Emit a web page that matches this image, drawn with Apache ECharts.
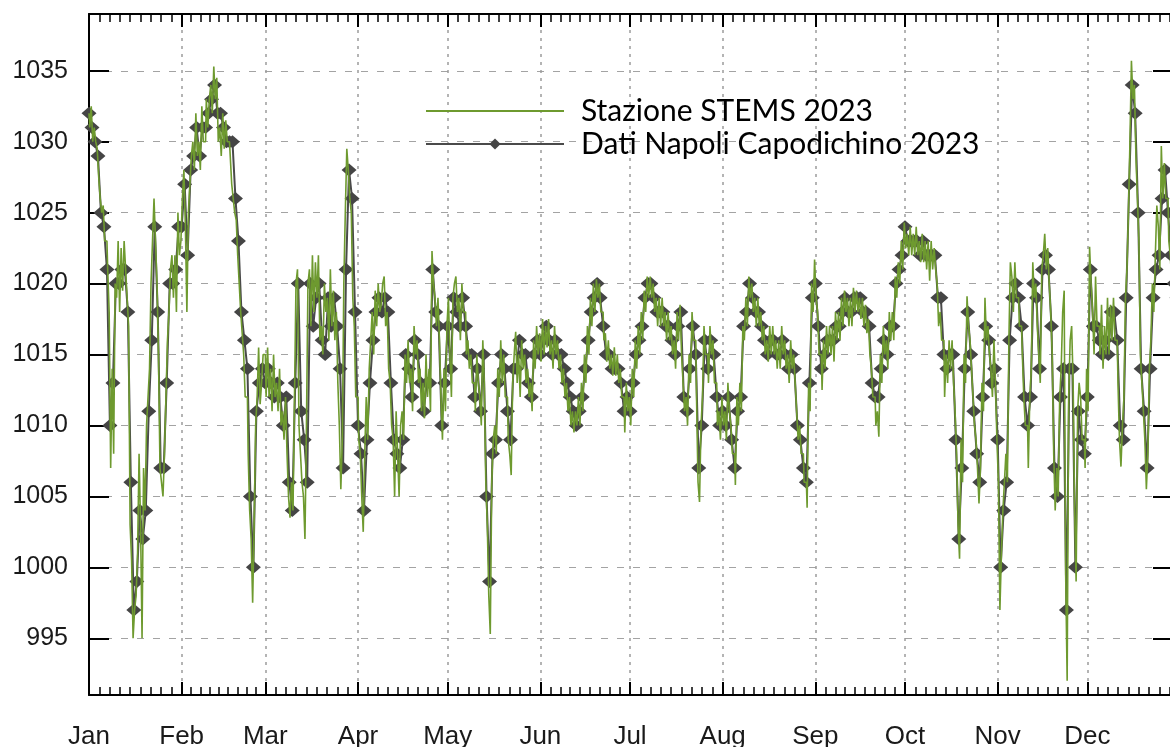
<!DOCTYPE html>
<html>
<head>
<meta charset="utf-8">
<script src="https://cdn.jsdelivr.net/npm/echarts@6/dist/echarts.min.js"></script>
<style>
  html, body { margin: 0; padding: 0; background: #ffffff; }
  #chart { width: 1170px; height: 747px; }
</style>
</head>
<body>
<div id="chart"></div>
<script>
// Axis labels and calendar
const monthNames = ['Jan', 'Feb', 'Mar', 'Apr', 'May', 'Jun', 'Jul', 'Aug', 'Sep', 'Oct', 'Nov', 'Dec'];
const monthStarts = [0, 31, 59, 90, 120, 151, 181, 212, 243, 273, 304, 334];
const monthLengths = [31, 28, 31, 30, 31, 30, 31, 31, 30, 31, 30, 31];
const pressureTicks = [995, 1000, 1005, 1010, 1015, 1020, 1025, 1030, 1035];

// Dati Napoli Capodichino 2023: one reading per day (hPa)
const napoliJan = [1032,1031,1030,1029,1025,1024,1021,1010,1013,1020,1020,1021,1021,1018,1006,997,999,1004,1002,1004,1011,1016,1024,1018,1007,1007,1013,1020,1020,1021,1024];
const napoliFeb = [1024,1027,1022,1028,1029,1031,1029,1031,1031,1032,1033,1034,1032,1032,1031,1030,1030,1030,1026,1023,1018,1016,1014,1005,1000,1011,1013,1014];
const napoliMar = [1013,1014,1013,1012,1013,1012,1010,1012,1006,1004,1013,1020,1011,1009,1006,1020,1017,1019,1020,1016,1015,1019,1017,1019,1017,1014,1007,1021,1028,1026,1018];
const napoliApr = [1010,1008,1004,1009,1013,1016,1018,1019,1018,1019,1018,1013,1009,1008,1007,1009,1015,1014,1012,1016,1015,1013,1011,1013,1013,1021,1018,1017,1010,1013];
const napoliMay = [1017,1014,1019,1018,1017,1019,1017,1015,1015,1012,1014,1011,1015,1005,999,1008,1009,1013,1015,1014,1011,1009,1014,1014,1016,1015,1015,1013,1012,1015,1016];
const napoliJun = [1015,1016,1017,1016,1015,1016,1015,1015,1014,1013,1012,1011,1010,1011,1012,1014,1016,1018,1019,1020,1019,1017,1015,1015,1014,1014,1014,1013,1011,1012];
const napoliJul = [1011,1013,1015,1016,1017,1019,1020,1020,1019,1018,1018,1018,1017,1017,1016,1015,1017,1018,1012,1011,1014,1017,1015,1007,1010,1016,1014,1016,1015,1012,1010];
const napoliAug = [1011,1010,1012,1009,1007,1011,1012,1017,1018,1020,1019,1018,1018,1017,1016,1015,1016,1016,1015,1015,1016,1015,1014,1015,1014,1010,1009,1007,1006,1013,1019];
const napoliSep = [1020,1017,1014,1015,1016,1016,1016,1017,1017,1018,1019,1018,1018,1019,1019,1019,1018,1018,1017,1013,1012,1012,1014,1016,1015,1017,1017,1020,1021,1022];
const napoliOct = [1024,1023,1023,1023,1023,1022,1023,1022,1022,1022,1022,1019,1019,1015,1014,1015,1015,1009,1002,1007,1014,1018,1015,1011,1008,1006,1012,1017,1016,1013,1014];
const napoliNov = [1009,1000,1004,1006,1016,1019,1020,1019,1017,1012,1010,1012,1020,1019,1014,1021,1022,1021,1017,1007,1005,1012,1014,997,1014,1014,1000,1011,1009,1008];
const napoliDec = [1012,1021,1017,1017,1016,1015,1016,1015,1018,1018,1016,1010,1009,1019,1027,1034,1032,1025,1014,1011,1007,1014,1019,1021,1022,1026,1028,1025,1022,1020,1019];

// Stazione STEMS 2023: two readings per day (hPa)
const stemsJan = [1032,1031, 1032.5,1030, 1031,1030, 1029.5,1027.5, 1026,1025, 1025.5,1023, 1023,1021, 1018,1007, 1014,1008, 1020,1019, 1023,1018, 1022.5,1019.5, 1023,1021, 1019,1017, 1003,1000.5, 995,997, 998,1001, 1008,1003, 995,1007, 1004,1010, 1012,1014, 1020,1023, 1026,1023, 1020,1015, 1007,1006, 1005,1008, 1012,1016, 1018,1021, 1022,1019, 1022,1018, 1025,1022];
const stemsFeb = [1023,1026, 1028,1024, 1018,1025, 1027,1029, 1030,1028, 1032,1029, 1030,1028, 1032.5,1030, 1030,1033, 1031,1033, 1034,1032, 1035.3,1033, 1034.5,1030, 1031,1029, 1032,1029.5, 1031.5,1030, 1030,1029, 1027,1026, 1025,1024.5, 1022,1020, 1018,1016.5, 1015,1012, 1012,1008, 1004,1002, 997.5,1003, 1010,1012, 1015.5,1011.5, 1013,1015];
const stemsMar = [1015,1012, 1015.5,1012, 1014,1011, 1015,1012, 1013,1011, 1014,1010, 1011,1009, 1012,1008, 1005,1003.5, 1006,1004, 1012,1020, 1021,1010, 1008,1006, 1005,1002, 1010,1020, 1021,1017, 1022,1018, 1021.5,1019, 1022,1016, 1017,1015, 1020,1018, 1019,1016, 1021,1017, 1019.5,1016, 1018,1013, 1010,1005.5, 1009,1020, 1025,1029.5, 1028,1026, 1025,1019, 1017,1012];
const stemsApr = [1012,1009, 1008,1005, 1002.5,1008, 1012,1009, 1014,1016, 1018,1015, 1019.5,1017, 1020,1018, 1018.5,1020, 1020.5,1017, 1018,1014, 1013,1010, 1009,1005, 1011,1008, 1005,1010, 1011,1009, 1015,1013, 1016,1013, 1014,1011, 1017,1015, 1016,1013, 1014,1011, 1013,1010.5, 1015,1012, 1014,1011, 1022.3,1020, 1019,1017, 1019,1016, 1012,1009, 1014,1011];
const stemsMay = [1017,1019, 1015,1012, 1019,1020, 1020.5,1018, 1019,1016, 1020,1018, 1018,1015, 1016,1014, 1015,1013, 1013,1011, 1015,1013, 1012,1010, 1016,1013, 1006,1003, 998,995.3, 1006,1009, 1010,1008, 1014,1012, 1016,1013, 1015,1012, 1012,1009, 1008,1006.5, 1013,1015, 1016.6,1013, 1015,1012, 1016,1014, 1015,1013, 1014,1012, 1013,1011, 1016,1014, 1017,1015];
const stemsJun = [1016.5,1014.5, 1017.5,1015, 1017,1015.5, 1017.5,1015, 1016,1014, 1017,1015, 1016,1014, 1015,1013, 1014,1012, 1013,1011, 1012,1010, 1011,1009.5, 1011,1010, 1012,1010, 1013,1011, 1015,1013, 1017,1015, 1019,1017, 1020,1018, 1020.3,1019, 1020,1018, 1018,1016, 1016.5,1014.5, 1016,1014, 1015,1013.5, 1015.5,1013.5, 1015,1013, 1014,1012, 1012,1009.5, 1013,1011];
const stemsJul = [1012,1010, 1014,1012, 1016,1014, 1017,1015, 1018,1016, 1019.5,1018, 1020.5,1019, 1020.5,1019, 1020,1018, 1019,1017, 1019,1017, 1019,1017, 1018,1016, 1018,1016, 1017,1015, 1016,1014, 1018,1016, 1018.5,1015, 1013,1011, 1012,1010, 1015,1013, 1018,1016, 1016,1012, 1006,1004.6, 1010,1012, 1017,1015, 1015,1013, 1017,1015, 1016,1013, 1013,1010, 1011,1009];
const stemsAug = [1012,1010, 1011,1009, 1013,1011, 1010,1008, 1008,1005.8, 1012,1010, 1013,1011, 1017,1016, 1019,1017, 1020.5,1019, 1020,1018, 1019,1017, 1019,1017, 1018,1016, 1017,1015, 1016,1014.5, 1017,1015, 1017,1015, 1016,1014, 1016,1014, 1017,1015, 1016,1014, 1015,1013, 1016,1014, 1015,1013, 1011,1009, 1010,1008, 1008,1006, 1006,1004.2, 1013,1011, 1020,1018];
const stemsSep = [1021.7,1019, 1018,1015, 1015,1012.5, 1016,1014, 1017,1015, 1017,1015, 1017,1014.5, 1018,1016, 1018,1016, 1019,1017, 1019.5,1018, 1019,1017, 1019,1017, 1019.7,1018, 1019.5,1018, 1019,1017.5, 1019,1017, 1018.5,1016.5, 1017.5,1015, 1014,1012, 1012,1010, 1011,1009.2, 1015,1013, 1017,1015, 1016,1014, 1018,1016, 1018,1016, 1020.5,1019, 1021.5,1020, 1023,1021];
const stemsOct = [1024.3,1022.5, 1023.5,1022, 1024,1022, 1023.5,1022, 1024,1022, 1023,1021.5, 1023.5,1021.5, 1023,1021, 1023,1020.2, 1023,1021, 1022.5,1021, 1020,1017, 1018,1016, 1016,1012, 1015,1013, 1016,1014, 1016,1013, 1011,1008, 1003,1000.6, 1009,1006, 1015,1013, 1019.1,1017, 1016,1014, 1012,1010, 1009,1007, 1004.5,1007, 1013,1011, 1019,1016, 1017,1015, 1014,1012, 1016,1013];
const stemsNov = [1009,1006, 997,1001, 1004,1006, 1008,1006, 1016,1021.5, 1020.5,1018, 1021.5,1019, 1019,1017, 1017,1015, 1012,1010, 1010,1007, 1012,1014, 1021.5,1019, 1020,1017, 1015,1013, 1021,1022, 1023.5,1021, 1022.5,1020, 1018,1015, 1008,1004, 1007,1005, 1012,1014, 1018,1019.5, 999.5,992, 1012,1016, 1017,1013, 1004,999, 1011,1013, 1012,1009, 1009,1007];
const stemsDec = [1014,1011, 1022.6,1020, 1018,1015, 1020.5,1017, 1017,1015, 1018.5,1014, 1017,1015, 1019,1015, 1018.5,1016, 1019,1016, 1016,1013, 1009,1007.1, 1010,1012, 1019,1021, 1025,1030, 1035.7,1033, 1034,1029, 1026,1023, 1015,1013, 1011,1009, 1005.5,1008, 1014,1016, 1020,1018, 1022,1025.5, 1024,1021, 1029.7,1026, 1028.5,1026, 1026,1023, 1022,1020, 1021,1019, 1020,1019];

const napoli = [].concat(napoliJan, napoliFeb, napoliMar, napoliApr, napoliMay, napoliJun,
                         napoliJul, napoliAug, napoliSep, napoliOct, napoliNov, napoliDec);
const stems = [].concat(stemsJan, stemsFeb, stemsMar, stemsApr, stemsMay, stemsJun,
                        stemsJul, stemsAug, stemsSep, stemsOct, stemsNov, stemsDec);

// x is the day of the year (0 = 1 January)
const napoliData = napoli.map((v, i) => [i, v]);
const stemsData = stems.map((v, i) => [i / 2, v]);

// small ticks inside each month
const minorPerMonth = 8;
const minorDays = [];
monthStarts.forEach((s, i) => {
  for (let k = 1; k <= minorPerMonth; k++) minorDays.push(s + k * monthLengths[i] / (minorPerMonth + 1));
});

const black = '#000000';
const axisFont = '"Liberation Sans", Arial, sans-serif';

const chart = echarts.init(document.getElementById('chart'), null, { renderer: 'canvas' });

const baseX = {
  type: 'value', min: 0, max: 365,
  axisLine: { show: true, onZero: false, lineStyle: { color: black, width: 2 } },
  splitLine: { show: false },
  axisLabel: { show: false }
};

chart.setOption({
  animation: false,
  backgroundColor: '#ffffff',
  grid: { left: 89, right: -10, top: 14, bottom: 52, containLabel: false, outerBoundsMode: 'none' },
  legend: {
    data: [
      { name: 'Stazione STEMS 2023', itemStyle: { opacity: 0 } },
      { name: 'Dati Napoli Capodichino 2023' }
    ],
    orient: 'vertical',
    left: 425, top: 96, padding: 0,
    itemWidth: 138, itemHeight: 14, itemGap: 3,
    textStyle: { fontFamily: 'Lato', fontSize: 30, color: '#000000', padding: [0, 0, 0, 12], lineHeight: 30 }
  },
  xAxis: [
    Object.assign({}, baseX, {
      position: 'bottom',
      axisTick: { show: true, inside: true, length: 13, customValues: monthStarts, lineStyle: { color: black, width: 2 } },
      axisLabel: {
        show: true, customValues: monthStarts, margin: 29,
        formatter: v => monthNames[monthStarts.indexOf(v)],
        fontFamily: axisFont, fontSize: 26, color: '#1a1a1a'
      },
      splitLine: { show: true, lineStyle: { color: '#9c9c9c', width: 1.5, type: [3, 5] } }
    }),
    Object.assign({}, baseX, {
      position: 'top',
      axisTick: { show: true, inside: true, length: 13, customValues: monthStarts, lineStyle: { color: black, width: 2 } }
    }),
    Object.assign({}, baseX, {
      position: 'bottom', axisLine: { show: false },
      axisTick: { show: true, inside: true, length: 8, customValues: minorDays, lineStyle: { color: black, width: 1.5 } }
    }),
    Object.assign({}, baseX, {
      position: 'top', axisLine: { show: false },
      axisTick: { show: true, inside: true, length: 8, customValues: minorDays, lineStyle: { color: black, width: 1.5 } }
    })
  ],
  yAxis: [
    {
      type: 'value', min: 991, max: 1039, position: 'left',
      axisLine: { show: true, onZero: false, lineStyle: { color: black, width: 2 } },
      axisTick: { show: true, inside: true, length: 20, customValues: pressureTicks, lineStyle: { color: black, width: 2 } },
      axisLabel: {
        customValues: pressureTicks, margin: 21, formatter: v => String(v),
        fontFamily: axisFont, fontSize: 25, color: '#1a1a1a'
      },
      splitLine: { show: true, lineStyle: { color: '#a3a3a3', width: 1.2, type: [7, 9] } }
    },
    {
      type: 'value', min: 991, max: 1039, position: 'right',
      axisLine: { show: true, onZero: false, lineStyle: { color: black, width: 2 } },
      axisTick: { show: true, inside: true, length: 27, customValues: pressureTicks, lineStyle: { color: black, width: 2 } },
      axisLabel: { show: false },
      splitLine: { show: false }
    }
  ],
  series: [
    {
      name: 'Dati Napoli Capodichino 2023',
      type: 'line',
      xAxisIndex: 0, yAxisIndex: 0,
      data: napoliData,
      symbol: 'diamond', symbolSize: [15, 13],
      showAllSymbol: true,
      lineStyle: { color: '#4a4a4a', width: 2 },
      itemStyle: { color: '#454545', borderWidth: 0 },
      z: 2
    },
    {
      name: 'Stazione STEMS 2023',
      type: 'line',
      xAxisIndex: 0, yAxisIndex: 0,
      data: stemsData,
      step: 'middle',
      showSymbol: false, symbol: 'none',
      lineStyle: { color: '#6e9a2f', width: 1.6 },
      itemStyle: { color: '#6e9a2f' },
      z: 3
    }
  ]
});
</script>
</body>
</html>
